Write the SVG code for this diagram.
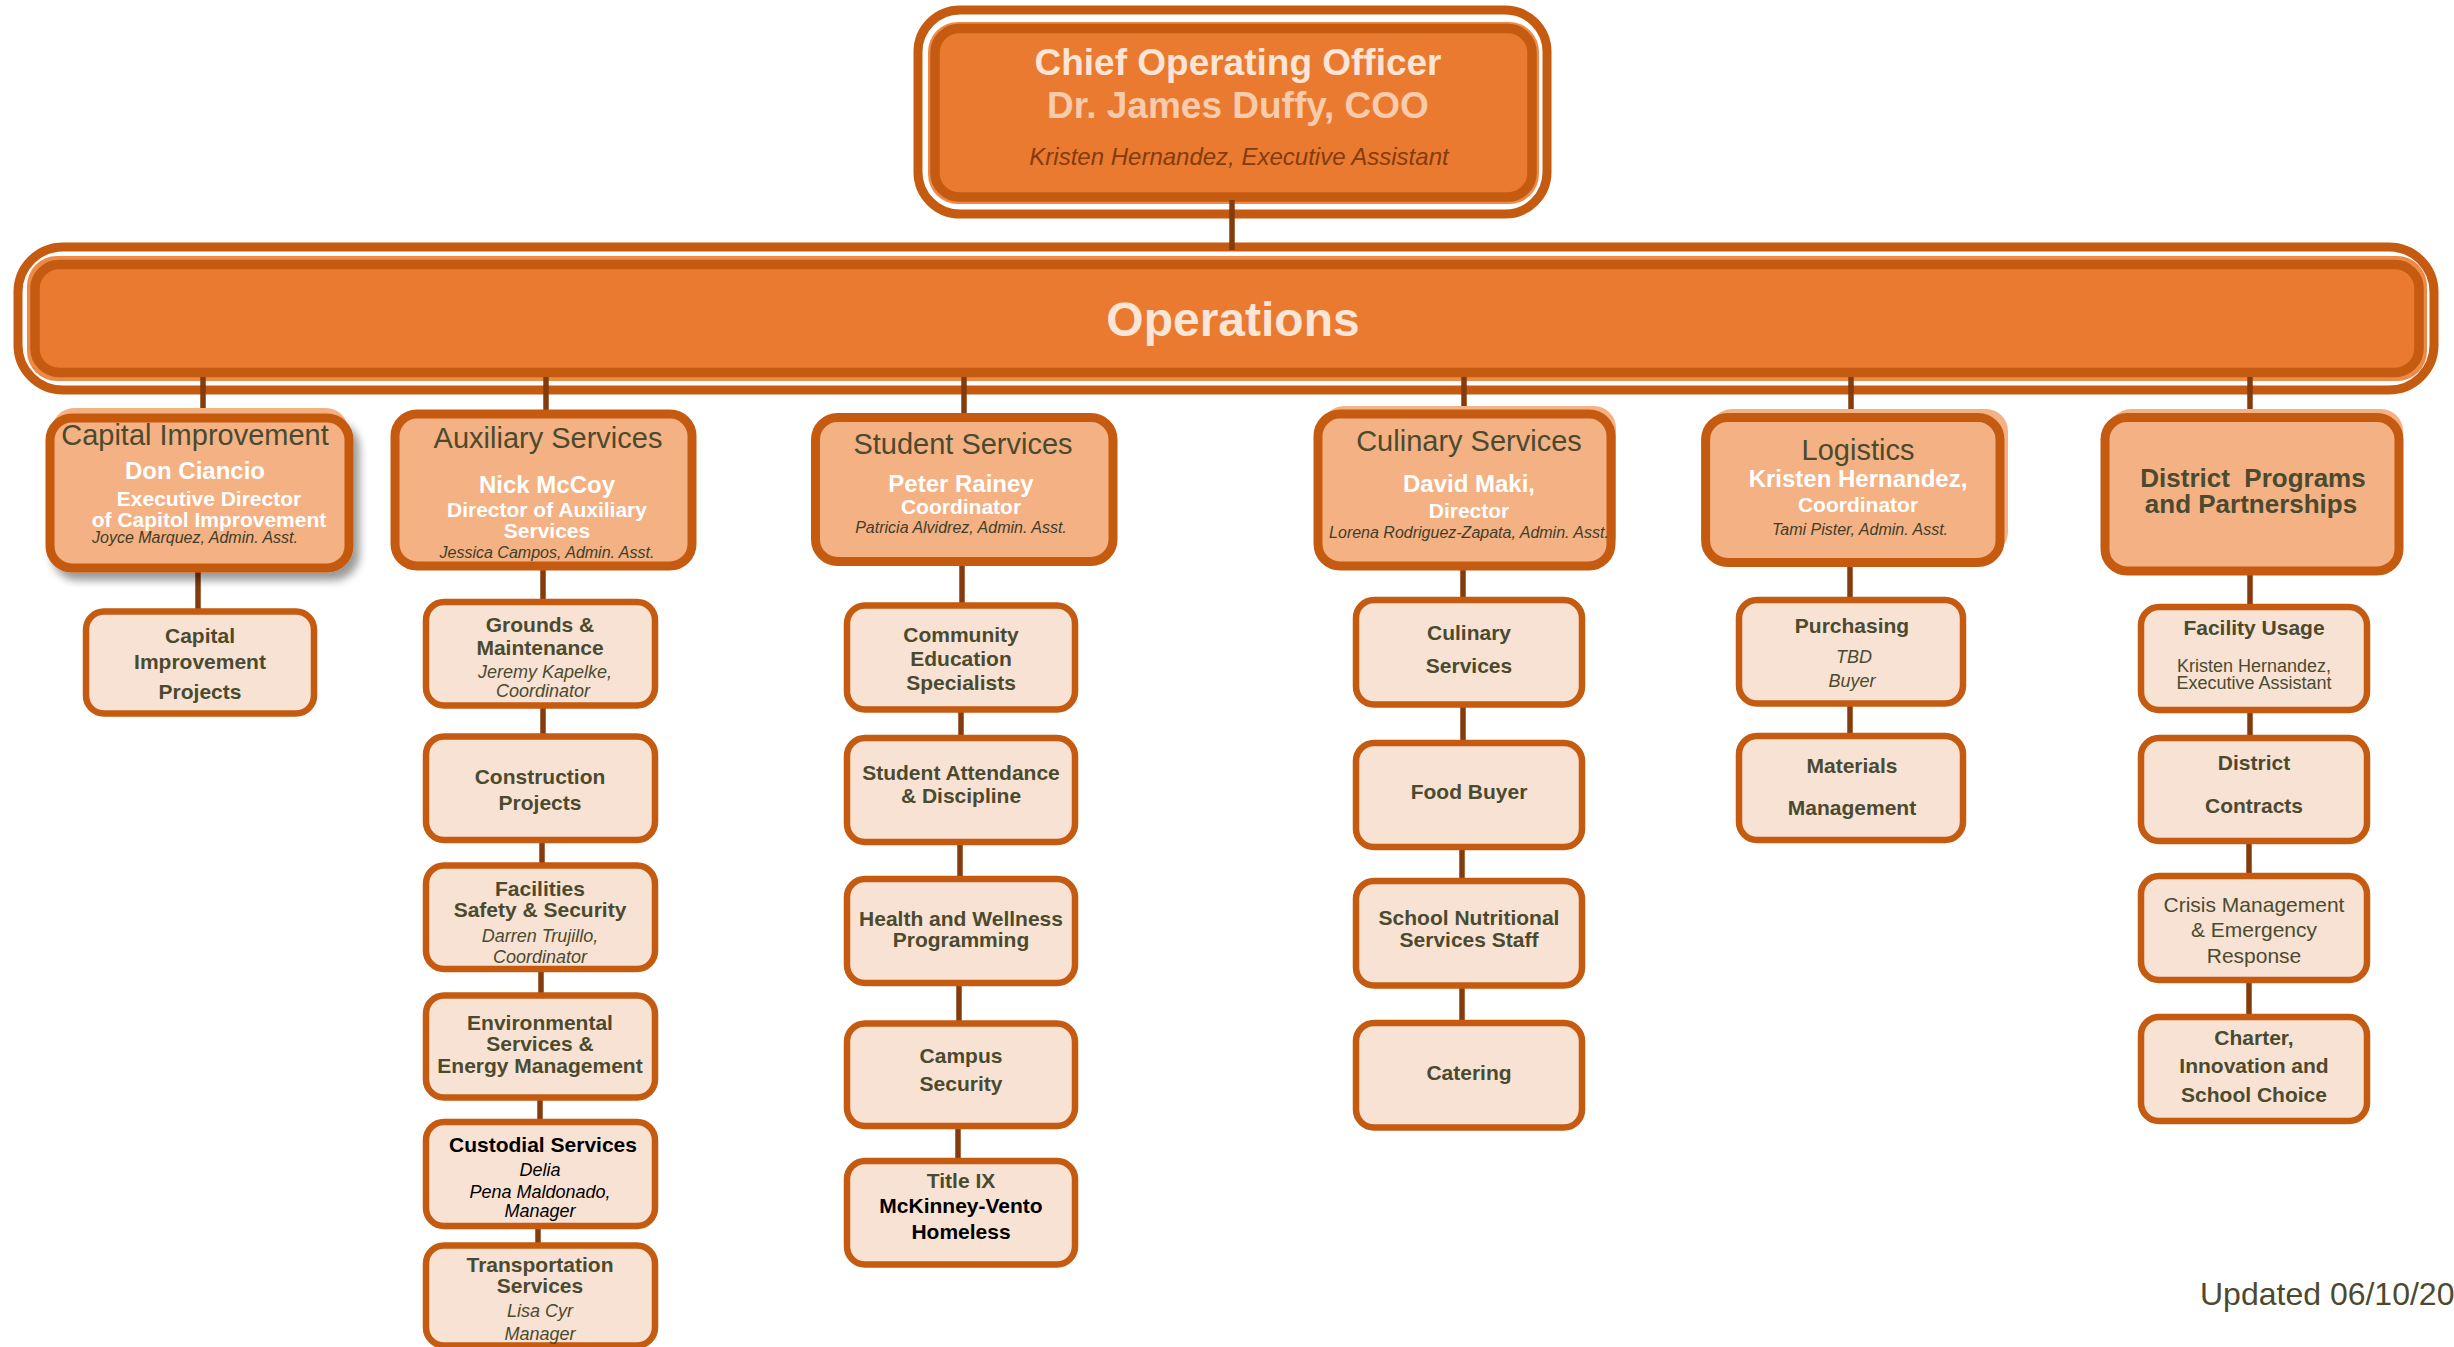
<svg xmlns="http://www.w3.org/2000/svg" width="2454" height="1347" viewBox="0 0 2454 1347">
<style>
text{font-family:"Liberation Sans",Arial,sans-serif;text-anchor:middle}
.dept{fill:#F4B183;stroke:#C55A11;stroke-width:9}
.rim{fill:#F4B183}
.sub{fill:#F8E2D4;stroke:#C55A11;stroke-width:6.5}
.conn{stroke:#843C0C;stroke-width:5.5;fill:none}
.dt{font-size:29px;fill:#4B4A2F}
.nm{font-size:24px;font-weight:bold;fill:#FFFFFF}
.rl{font-size:21px;font-weight:bold;fill:#FFFFFF}
.ad{font-size:16px;font-style:italic;fill:#3F3E2A}
.st{font-size:21px;font-weight:bold;fill:#4B4A2F}
.si{font-size:18px;font-style:italic;fill:#4B4A2F}
.blk{fill:#000000}
</style>
<defs>
<filter id="shadow" x="-10%" y="-10%" width="130%" height="140%">
<feGaussianBlur in="SourceAlpha" stdDeviation="4"/>
<feOffset dx="6" dy="8" result="b"/>
<feComponentTransfer><feFuncA type="linear" slope="0.4"/></feComponentTransfer>
<feMerge><feMergeNode/><feMergeNode in="SourceGraphic"/></feMerge>
</filter>
</defs>

<g id="coo">
<rect x="918" y="10" width="629" height="204" rx="42" fill="#FFFFFF" stroke="#C55A11" stroke-width="9"/>
<rect x="928" y="22" width="611" height="182" rx="30" fill="#EE8A48"/>
<rect x="935" y="28.5" width="597" height="168.5" rx="24" fill="#EA7A30" stroke="#C55A11" stroke-width="9.5"/>
<text x="1238" y="75" font-size="37" font-weight="bold" fill="#FBE5D6">Chief Operating Officer</text>
<text x="1238" y="118" font-size="37" font-weight="bold" fill="#F8CBAD">Dr. James Duffy, COO</text>
<text x="1239" y="165" font-size="24" font-style="italic" fill="#843C0C">Kristen Hernandez, Executive Assistant</text>
</g>

<g id="operations">
<rect x="18" y="247" width="2416" height="143" rx="45" fill="#FFFFFF" stroke="#C55A11" stroke-width="9"/>
<rect x="27" y="256" width="2400" height="125" rx="30" fill="#EE8A48"/>
<rect x="35" y="264.5" width="2384" height="108" rx="24" fill="#EA7A30" stroke="#C55A11" stroke-width="9.5"/>
<text x="1233" y="336" font-size="48" font-weight="bold" fill="#FBE5D6">Operations</text>
</g>

<g id="connectors">
<line class="conn" x1="1232" y1="200" x2="1232" y2="250"/>
<line class="conn" x1="203" y1="377" x2="203" y2="418"/>
<line class="conn" x1="198" y1="568" x2="198" y2="611"/>
<line class="conn" x1="546" y1="377" x2="546" y2="414"/>
<line class="conn" x1="543" y1="566" x2="543" y2="602"/>
<line class="conn" x1="543" y1="705" x2="543" y2="737"/>
<line class="conn" x1="542" y1="840" x2="542" y2="866"/>
<line class="conn" x1="541" y1="969" x2="541" y2="996"/>
<line class="conn" x1="540" y1="1097" x2="540" y2="1122"/>
<line class="conn" x1="538" y1="1226" x2="538" y2="1246"/>
<line class="conn" x1="964" y1="377" x2="964" y2="418"/>
<line class="conn" x1="962" y1="561" x2="962" y2="606"/>
<line class="conn" x1="961" y1="709" x2="961" y2="738"/>
<line class="conn" x1="960" y1="842" x2="960" y2="879"/>
<line class="conn" x1="959" y1="983" x2="959" y2="1024"/>
<line class="conn" x1="958" y1="1126" x2="958" y2="1161"/>
<line class="conn" x1="1464" y1="377" x2="1464" y2="414"/>
<line class="conn" x1="1463" y1="566" x2="1463" y2="600"/>
<line class="conn" x1="1463" y1="704" x2="1463" y2="743"/>
<line class="conn" x1="1462" y1="847" x2="1462" y2="881"/>
<line class="conn" x1="1462" y1="985" x2="1462" y2="1023"/>
<line class="conn" x1="1851" y1="377" x2="1851" y2="418"/>
<line class="conn" x1="1850" y1="562" x2="1850" y2="600"/>
<line class="conn" x1="1850" y1="703" x2="1850" y2="736"/>
<line class="conn" x1="2250" y1="377" x2="2250" y2="418"/>
<line class="conn" x1="2250" y1="571" x2="2250" y2="607"/>
<line class="conn" x1="2250" y1="710" x2="2250" y2="738"/>
<line class="conn" x1="2249" y1="841" x2="2249" y2="876"/>
<line class="conn" x1="2249" y1="980" x2="2249" y2="1017"/>
</g>

<g id="capital-improvement">
<rect class="rim" x="52" y="408" width="296" height="150" rx="22"/>
<rect class="dept" x="50" y="418" width="299" height="150" rx="22" filter="url(#shadow)"/>
<text class="dt" x="195" y="445">Capital Improvement</text>
<text class="nm" x="195" y="479">Don Ciancio</text>
<text class="rl" x="209" y="506">Executive Director</text>
<text class="rl" x="209" y="527">of Capitol Improvement</text>
<text class="ad" x="195" y="543">Joyce Marquez, Admin. Asst.</text>
</g>
<g id="capital-projects">
<rect class="sub" x="86" y="611.5" width="228" height="102" rx="18"/>
<text class="st" x="200" y="643">Capital</text>
<text class="st" x="200" y="669">Improvement</text>
<text class="st" x="200" y="699">Projects</text>
</g>

<g id="auxiliary-services">
<rect class="dept" x="395" y="414" width="297" height="152" rx="22"/>
<text class="dt" x="548" y="448">Auxiliary Services</text>
<text class="nm" x="547" y="493">Nick McCoy</text>
<text class="rl" x="547" y="517">Director of Auxiliary</text>
<text class="rl" x="547" y="538">Services</text>
<text class="ad" x="547" y="558">Jessica Campos, Admin. Asst.</text>
</g>
<g id="grounds">
<rect class="sub" x="426" y="602" width="229" height="103.5" rx="18"/>
<text class="st" x="540" y="632">Grounds &amp;</text>
<text class="st" x="540" y="655">Maintenance</text>
<text class="si" x="545" y="678">Jeremy Kapelke,</text>
<text class="si" x="543" y="697">Coordinator</text>
</g>
<g id="construction">
<rect class="sub" x="426" y="736.5" width="229" height="103.5" rx="18"/>
<text class="st" x="540" y="784">Construction</text>
<text class="st" x="540" y="810">Projects</text>
</g>
<g id="facilities">
<rect class="sub" x="426" y="865.5" width="229" height="103.5" rx="18"/>
<text class="st" x="540" y="896">Facilities</text>
<text class="st" x="540" y="917">Safety &amp; Security</text>
<text class="si" x="540" y="942">Darren Trujillo,</text>
<text class="si" x="540" y="963">Coordinator</text>
</g>
<g id="environmental">
<rect class="sub" x="426" y="995.5" width="229" height="102" rx="18"/>
<text class="st" x="540" y="1030">Environmental</text>
<text class="st" x="540" y="1051">Services &amp;</text>
<text class="st" x="540" y="1073">Energy Management</text>
</g>
<g id="custodial">
<rect class="sub" x="426" y="1122" width="229" height="104" rx="18"/>
<text class="st blk" x="543" y="1152">Custodial Services</text>
<text class="si blk" x="540" y="1176">Delia</text>
<text class="si blk" x="540" y="1198">Pena Maldonado,</text>
<text class="si blk" x="540" y="1217">Manager</text>
</g>
<g id="transportation">
<rect class="sub" x="426" y="1245.5" width="229" height="100" rx="18"/>
<text class="st" x="540" y="1272">Transportation</text>
<text class="st" x="540" y="1293">Services</text>
<text class="si" x="540" y="1317">Lisa Cyr</text>
<text class="si" x="540" y="1340">Manager</text>
</g>

<g id="student-services">
<rect class="dept" x="815.5" y="417.5" width="297.5" height="144" rx="22"/>
<text class="dt" x="963" y="454">Student Services</text>
<text class="nm" x="961" y="492">Peter Rainey</text>
<text class="rl" x="961" y="514">Coordinator</text>
<text class="ad" x="961" y="533">Patricia Alvidrez, Admin. Asst.</text>
</g>
<g id="community-education">
<rect class="sub" x="847" y="605.5" width="228" height="104" rx="18"/>
<text class="st" x="961" y="642">Community</text>
<text class="st" x="961" y="666">Education</text>
<text class="st" x="961" y="690">Specialists</text>
</g>
<g id="attendance">
<rect class="sub" x="847" y="738" width="228" height="104" rx="18"/>
<text class="st" x="961" y="780">Student Attendance</text>
<text class="st" x="961" y="803">&amp; Discipline</text>
</g>
<g id="health">
<rect class="sub" x="847" y="879" width="228" height="104" rx="18"/>
<text class="st" x="961" y="926">Health and Wellness</text>
<text class="st" x="961" y="947">Programming</text>
</g>
<g id="campus-security">
<rect class="sub" x="847" y="1023.5" width="228" height="102.5" rx="18"/>
<text class="st" x="961" y="1063">Campus</text>
<text class="st" x="961" y="1091">Security</text>
</g>
<g id="title-ix">
<rect class="sub" x="847" y="1161" width="228" height="103.5" rx="18"/>
<text class="st" x="961" y="1188">Title IX</text>
<text class="st blk" x="961" y="1213">McKinney-Vento</text>
<text class="st blk" x="961" y="1239">Homeless</text>
</g>

<g id="culinary-services">
<rect class="rim" x="1322" y="406" width="294" height="152" rx="22"/>
<rect class="dept" x="1318" y="414" width="293" height="152" rx="22"/>
<text class="dt" x="1469" y="451">Culinary Services</text>
<text class="nm" x="1469" y="492">David Maki,</text>
<text class="rl" x="1469" y="518">Director</text>
<text class="ad" x="1469" y="538">Lorena Rodriguez-Zapata, Admin. Asst.</text>
</g>
<g id="culinary-sub">
<rect class="sub" x="1356" y="600" width="226" height="104.5" rx="18"/>
<text class="st" x="1469" y="640">Culinary</text>
<text class="st" x="1469" y="673">Services</text>
</g>
<g id="food-buyer">
<rect class="sub" x="1356" y="743" width="226" height="104" rx="18"/>
<text class="st" x="1469" y="799">Food Buyer</text>
</g>
<g id="school-nutritional">
<rect class="sub" x="1356" y="881" width="226" height="104.5" rx="18"/>
<text class="st" x="1469" y="925">School Nutritional</text>
<text class="st" x="1469" y="947">Services Staff</text>
</g>
<g id="catering">
<rect class="sub" x="1356" y="1023" width="226" height="104.5" rx="18"/>
<text class="st" x="1469" y="1080">Catering</text>
</g>

<g id="logistics">
<rect class="rim" x="1710" y="409" width="298" height="145" rx="22"/>
<rect class="dept" x="1705.6" y="417.5" width="294.4" height="145" rx="22"/>
<text class="dt" x="1858" y="460">Logistics</text>
<text class="nm" x="1858" y="487">Kristen Hernandez,</text>
<text class="rl" x="1858" y="512">Coordinator</text>
<text class="ad" x="1860" y="535">Tami Pister, Admin. Asst.</text>
</g>
<g id="purchasing">
<rect class="sub" x="1739" y="600" width="224" height="103.5" rx="18"/>
<text class="st" x="1852" y="633">Purchasing</text>
<text class="si" x="1854" y="663">TBD</text>
<text class="si" x="1852" y="687">Buyer</text>
</g>
<g id="materials">
<rect class="sub" x="1739" y="736" width="224" height="104" rx="18"/>
<text class="st" x="1852" y="773">Materials</text>
<text class="st" x="1852" y="815">Management</text>
</g>

<g id="district-programs">
<rect class="rim" x="2109" y="409" width="294" height="154" rx="22"/>
<rect class="dept" x="2105" y="417.5" width="294" height="153.5" rx="22"/>
<text x="2253" y="487" font-size="26" font-weight="bold" fill="#4B4A2F" xml:space="preserve">District  Programs</text>
<text x="2251" y="513" font-size="26" font-weight="bold" fill="#4B4A2F">and Partnerships</text>
</g>
<g id="facility-usage">
<rect class="sub" x="2141" y="607" width="226" height="103" rx="18"/>
<text class="st" x="2254" y="635">Facility Usage</text>
<text x="2254" y="672" font-size="18" fill="#4B4A2F">Kristen Hernandez,</text>
<text x="2254" y="689" font-size="18" fill="#4B4A2F">Executive Assistant</text>
</g>
<g id="district-contracts">
<rect class="sub" x="2141" y="738" width="226" height="103" rx="18"/>
<text class="st" x="2254" y="770">District</text>
<text class="st" x="2254" y="813">Contracts</text>
</g>
<g id="crisis-management">
<rect class="sub" x="2141" y="876" width="226" height="104" rx="18"/>
<text x="2254" y="912" font-size="21" fill="#4B4A2F">Crisis Management</text>
<text x="2254" y="937" font-size="21" fill="#4B4A2F">&amp; Emergency</text>
<text x="2254" y="963" font-size="21" fill="#4B4A2F">Response</text>
</g>
<g id="charter">
<rect class="sub" x="2141" y="1017" width="226" height="104" rx="18"/>
<text class="st" x="2254" y="1045">Charter,</text>
<text class="st" x="2254" y="1073">Innovation and</text>
<text class="st" x="2254" y="1102">School Choice</text>
</g>

<text x="2200" y="1305" font-size="32" fill="#4B4A2F" style="text-anchor:start">Updated 06/10/20</text>
</svg>
